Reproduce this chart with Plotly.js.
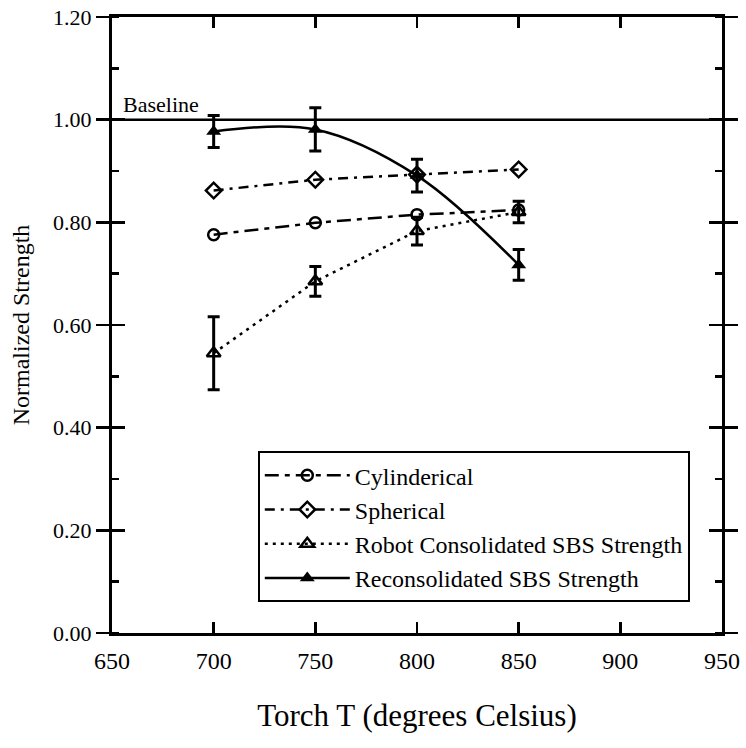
<!DOCTYPE html>
<html>
<head>
<meta charset="utf-8">
<script src="https://cdn.plot.ly/plotly-3.0.1.min.js"></script>
<style>html,body{margin:0;padding:0;background:#fff;}#chart{width:746px;height:748px;}</style>
</head>
<body>
<div id="chart"></div>
<script>
// ---- data ----
var temps = [700, 750, 800, 850];
var cylindrical = [0.776, 0.799, 0.815, 0.824];
var spherical = [0.862, 0.883, 0.893, 0.903];
var robot = [0.545, 0.685, 0.783, 0.820];
var robotErr = [0.071, 0.029, 0.027, 0.021];
var recon = [0.977, 0.981, 0.891, 0.717];
var reconErr = [0.031, 0.042, 0.032, 0.030];
var baselineValue = 1.0;
var seriesNames = ['Cylinderical', 'Spherical', 'Robot Consolidated SBS Strength', 'Reconsolidated SBS Strength'];

var FONT = 'Liberation Serif';

var traces = [
  {
    x: temps, y: cylindrical, name: seriesNames[0], mode: 'lines+markers',
    line: {color: '#000', width: 2.5, dash: '14px,6px,5px,6px'},
    marker: {symbol: 'circle-open', size: 11, color: '#000', line: {width: 2.5, color: '#000'}}
  },
  {
    x: temps, y: spherical, name: seriesNames[1], mode: 'lines+markers',
    line: {color: '#000', width: 2.5, dash: '10px,6px,3px,6px'},
    marker: {symbol: 'diamond-open', size: 12, color: '#000', line: {width: 2.5, color: '#000'}}
  },
  {
    x: temps, y: robot, name: seriesNames[2], mode: 'lines+markers',
    line: {color: '#000', width: 2.5, dash: '3px,5px'},
    marker: {symbol: 'triangle-up-open', size: 12, color: '#000', line: {width: 2.5, color: '#000'}},
    error_y: {type: 'data', array: robotErr, visible: true, color: '#000', thickness: 3, width: 6}
  },
  {
    x: temps, y: recon, name: seriesNames[3], mode: 'lines+markers',
    line: {color: '#000', width: 2.5, shape: 'spline', smoothing: 1},
    marker: {symbol: 'triangle-up', size: 13, color: '#000'},
    error_y: {type: 'data', array: reconErr, visible: true, color: '#000', thickness: 3, width: 6}
  },
  {
    x: temps, y: recon, yaxis: 'y2', mode: 'markers', showlegend: false, hoverinfo: 'skip',
    marker: {opacity: 0}
  }
];

var layout = {
  width: 746, height: 748,
  margin: {l: 112, r: 24, t: 17, b: 115},
  paper_bgcolor: '#fff', plot_bgcolor: '#fff',
  font: {family: FONT, color: '#000', size: 22},
  showlegend: true,
  legend: {
    x: 0.239, y: 0.05, xanchor: 'left', yanchor: 'bottom',
    bgcolor: '#fff', bordercolor: '#000', borderwidth: 2,
    font: {family: FONT, size: 24, color: '#000'},
    itemwidth: 85, traceorder: 'normal'
  },
  xaxis: {
    range: [650, 950], tick0: 650, dtick: 50, ticks: 'inside', ticklen: 11, tickwidth: 2.5,
    tickcolor: '#000', showline: true, linewidth: 3, linecolor: '#000', mirror: 'ticks',
    showgrid: false, zeroline: false, tickfont: {family: FONT, size: 24},
    ticklabelstandoff: 4,
    title: {text: 'Torch T (degrees Celsius)', font: {family: FONT, size: 31}, standoff: 32}
  },
  yaxis: {
    range: [0, 1.2], tick0: 0, dtick: 0.2, tickformat: '.2f', ticks: 'outside', ticklen: 13,
    tickwidth: 2.5, tickcolor: '#000', showline: true, linewidth: 3, linecolor: '#000',
    mirror: 'ticks', showgrid: false, zeroline: false, tickfont: {family: FONT, size: 22},
    minor: {dtick: 0.1, ticks: 'inside', ticklen: 7, tickwidth: 2.5, tickcolor: '#000', showgrid: false},
    title: {text: 'Normalized Strength', font: {family: FONT, size: 24}, standoff: 17}
  },
  yaxis2: {
    overlaying: 'y', side: 'left', range: [0, 1.2], tick0: 0, dtick: 0.2, ticks: 'inside',
    ticklen: 13, tickwidth: 2.5, tickcolor: '#000', mirror: 'ticks', showline: false,
    showgrid: false, zeroline: false, showticklabels: false
  },
  shapes: [
    {type: 'line', xref: 'paper', x0: 0, x1: 1, yref: 'y', y0: baselineValue, y1: baselineValue,
     line: {color: '#000', width: 2.5}}
  ],
  annotations: [
    {text: 'Baseline', xref: 'paper', x: 0.014, xanchor: 'left', yref: 'y', y: baselineValue,
     yanchor: 'bottom', yshift: 1, showarrow: false, font: {family: FONT, size: 22, color: '#000'}}
  ]
};

Plotly.newPlot('chart', traces, layout, {displayModeBar: false, staticPlot: true});
</script>
</body>
</html>
